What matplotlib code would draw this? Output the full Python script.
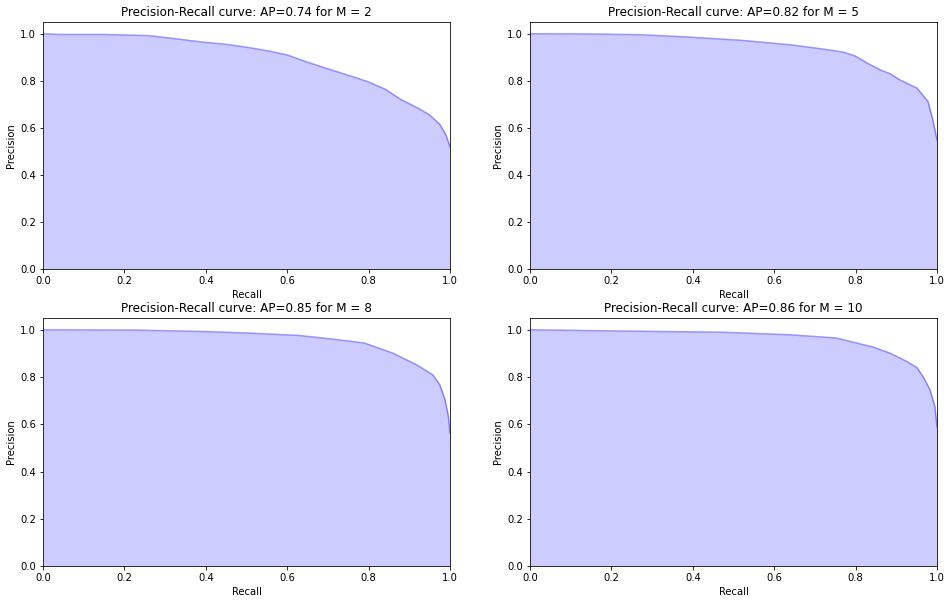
import matplotlib
matplotlib.use('Agg')
import matplotlib.pyplot as plt
import numpy as np

# values
M_values = [2, 5, 8, 10]
ap_values = [0.74, 0.82, 0.85, 0.86]

recall_m2 = [0.0, 0.04, 0.15, 0.26, 0.32, 0.39, 0.45, 0.51, 0.56, 0.60, 0.64, 0.68,
             0.72, 0.76, 0.80, 0.84, 0.88, 0.92, 0.95, 0.975, 0.99, 1.0]
precision_m2 = [1.0, 0.997, 0.997, 0.992, 0.98, 0.965, 0.955, 0.94, 0.925, 0.91, 0.885, 0.862,
                0.84, 0.818, 0.795, 0.765, 0.72, 0.685, 0.655, 0.615, 0.57, 0.52]

recall_m5 = [0.0, 0.15, 0.27, 0.39, 0.52, 0.64, 0.72, 0.77, 0.80, 0.83, 0.86, 0.885,
             0.909, 0.951, 0.978, 0.99, 1.0]
precision_m5 = [1.0, 0.999, 0.996, 0.986, 0.972, 0.953, 0.935, 0.922, 0.905, 0.874, 0.847, 0.83,
                0.804, 0.769, 0.712, 0.634, 0.549]

recall_m8 = [0.0, 0.22, 0.39, 0.51, 0.63, 0.71, 0.79, 0.86, 0.918, 0.958, 0.975,
             0.988, 0.996, 1.0]
precision_m8 = [1.0, 0.999, 0.993, 0.986, 0.976, 0.961, 0.944, 0.901, 0.852, 0.809, 0.767,
                0.703, 0.633, 0.564]

recall_m10 = [0.0, 0.31, 0.47, 0.64, 0.754, 0.803, 0.843, 0.885, 0.926, 0.951, 0.966,
              0.983, 0.995, 1.0]
precision_m10 = [1.0, 0.993, 0.99, 0.979, 0.965, 0.944, 0.927, 0.901, 0.866, 0.84, 0.802,
                 0.746, 0.675, 0.59]

recalls = [recall_m2, recall_m5, recall_m8, recall_m10]
precisions = [precision_m2, precision_m5, precision_m8, precision_m10]

fig = plt.figure(figsize=(952 / 72, 604 / 72), dpi=72)
positions = [
    [0.0452, 0.5546, 0.4275, 0.409],
    [0.5567, 0.5546, 0.4275, 0.409],
    [0.0452, 0.0629, 0.4275, 0.4106],
    [0.5567, 0.0629, 0.4275, 0.4106],
]

for pos, m, ap, rec, prec in zip(positions, M_values, ap_values, recalls, precisions):
    ax = fig.add_axes(pos)
    ax.plot(rec, prec, color='b', alpha=0.4, lw=1.5)
    ax.fill_between(rec, prec, alpha=0.2, color='b', lw=0)
    ax.set_xlabel('Recall')
    ax.set_ylabel('Precision')
    ax.set_xlim([0.0, 1.0])
    ax.set_ylim([0.0, 1.05])
    ax.set_title('Precision-Recall curve: AP={0:0.2f} for M = {1}'.format(ap, m), fontsize=12)

fig.savefig('out.png', dpi=72)
